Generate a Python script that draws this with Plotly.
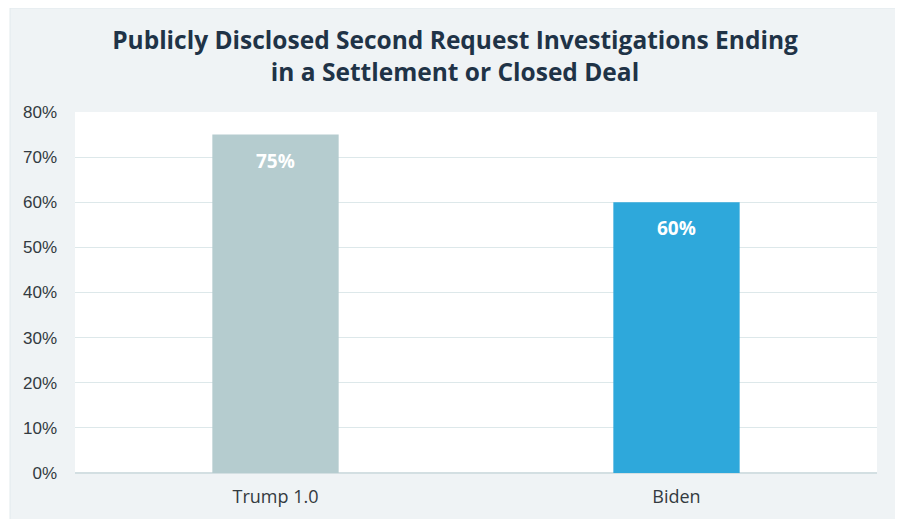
import plotly.graph_objects as go

categories = ["Trump 1.0", "Biden"]
values = [75, 60]
bar_colors = ["#b5cccf", "#2ea8db"]
value_labels = ["75%", "60%"]
tick_vals = [0, 10, 20, 30, 40, 50, 60, 70, 80]
tick_text = ["0%", "10%", "20%", "30%", "40%", "50%", "60%", "70%", "80%"]

W, H = 895, 511
L, R, T, B = 67, 26, 104, 46
PW, PH = W - L - R, H - T - B

fig = go.Figure()
fig.add_trace(go.Bar(
    x=categories, y=values, marker=dict(color=bar_colors, line=dict(width=0)),
    width=0.315, hoverinfo="skip",
))

for c, v, t in zip(categories, values, value_labels):
    fig.add_annotation(x=c, y=v, text="<b>%s</b>" % t, showarrow=False,
                       yanchor="top", yshift=-11,
                       font=dict(family="Open Sans", size=19, color="white"))

# outer light panel
fig.add_shape(type="rect", xref="paper", yref="paper",
              x0=(2 - L) / PW, x1=(890 - L) / PW,
              y0=(B - (H + 5)) / PH, y1=(H - B) / PH,
              fillcolor="#eff3f5", line=dict(color="#e2eaed", width=1), layer="below")
# white plot area
fig.add_shape(type="rect", xref="paper", yref="paper", x0=0, x1=1, y0=0, y1=1,
              fillcolor="white", line=dict(width=0), layer="below")

fig.update_layout(
    width=W, height=H,
    margin=dict(l=L, r=R, t=T, b=B),
    paper_bgcolor="white", plot_bgcolor="white",
    showlegend=False,
    title=dict(text="<b>Publicly Disclosed Second Request Investigations Ending<br>in a Settlement or Closed Deal</b>",
               x=447 / W, xanchor="center", xref="container", y=1 - 41 / H, yanchor="middle",
               yref="container",
               font=dict(family="Open Sans", size=24.5, color="#1f3347")),
    xaxis=dict(tickfont=dict(family="Open Sans", size=18, color="#333a40"),
               showgrid=False, showline=False, ticks="", range=[-0.5, 1.5],
               ticklabelstandoff=11),
    yaxis=dict(range=[0, 80], tickvals=tick_vals, ticktext=tick_text,
               tickfont=dict(family="Liberation Sans", size=17, color="#333a40"),
               gridcolor="#dde8ea", gridwidth=1, zeroline=True, zerolinecolor="#d3dfe2",
               zerolinewidth=1.5, ticks="", ticklabelstandoff=17, showline=False),
)

fig.write_html("out.html")
